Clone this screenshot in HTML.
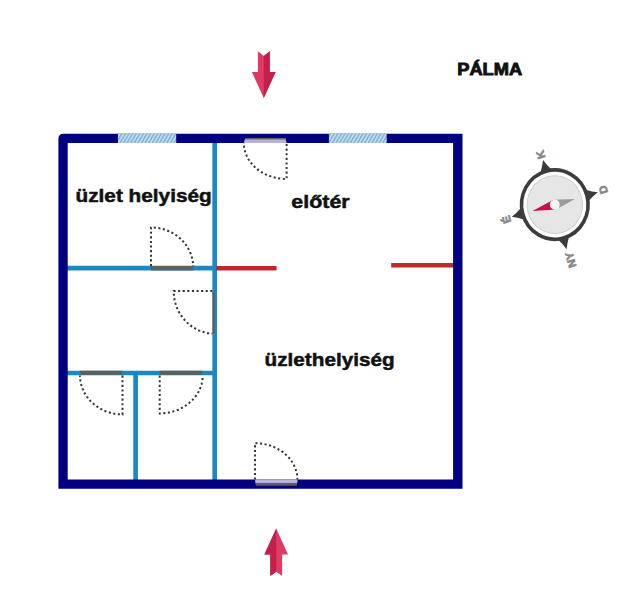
<!DOCTYPE html>
<html><head><meta charset="utf-8">
<style>
html,body{margin:0;padding:0;background:#fff;}
body{width:640px;height:610px;overflow:hidden;}
svg{display:block;}
text{font-family:"Liberation Sans",sans-serif;font-weight:bold;}
</style></head>
<body>
<svg width="640" height="610" viewBox="0 0 640 610" xmlns="http://www.w3.org/2000/svg">
<defs>
<pattern id="hatch" patternUnits="userSpaceOnUse" width="3.6" height="9.2" patternTransform="skewX(-30)">
<rect x="0" y="0" width="3.6" height="9.2" fill="#bedcf4"/>
<rect x="0" y="0" width="1.8" height="9.2" fill="#88b2d4"/>
</pattern>
</defs>

<!-- arrows -->
<polygon points="257.9,51.2 263.8,56 269.8,51.2 269.8,72.1 275.6,72.1 263.8,98.1 251.9,72.1 257.9,72.1" fill="#dd3963"/>
<polygon points="263.8,56 269.8,51.2 269.8,72.1 275.6,72.1 263.8,98.1" fill="#c31f4a"/>
<polygon points="276.2,528.4 288,554.5 282.1,554.5 282.1,576.1 276.2,571.7 270.3,576.1 270.3,554.5 264.4,554.5" fill="#de3b65"/>
<polygon points="276.2,528.4 264.4,554.5 270.3,554.5 270.3,576.1 276.2,571.7" fill="#c31f4a"/>

<!-- PALMA -->
<text x="457.2" y="75.4" font-size="16.8" stroke="#111" stroke-width="0.9" textLength="65" lengthAdjust="spacingAndGlyphs" fill="#111">PÁLMA</text>

<!-- interior walls -->
<g stroke="#1b88c4" stroke-width="4.7" fill="none">
<line x1="214.7" y1="140" x2="214.7" y2="482"/>
<line x1="65" y1="268.2" x2="214.7" y2="268.2"/>
<line x1="65" y1="373" x2="214.7" y2="373"/>
<line x1="135.6" y1="373" x2="135.6" y2="482"/>
</g>
<g stroke="#c0282e" stroke-width="4.6" fill="none">
<line x1="216" y1="268.2" x2="276.6" y2="268.2"/>
<line x1="391.2" y1="265.2" x2="455" y2="265.2"/>
</g>

<!-- outer wall -->
<path d="M58.4,138.4 A4.7,4.7 0 0 1 63.1,133.7 L462.5,133.7 L462.5,488.8 L58.4,488.8 Z M67.7,142.9 L67.7,479.6 L453.1,479.6 L453.1,142.9 Z" fill="#000080" fill-rule="evenodd"/>

<!-- windows -->
<rect x="117.9" y="133.5" width="58.3" height="9.5" fill="url(#hatch)"/>
<rect x="328.9" y="133.5" width="57.8" height="9.5" fill="url(#hatch)"/>

<!-- door bars -->
<polygon points="245.2,137.9 285.4,137.9 286.6,143 243.8,143" fill="#b6b2da"/>
<polygon points="245.2,137.9 285.4,137.9 285.7,139.4 244.9,139.4" fill="#6a645c"/>
<rect x="151" y="266" width="42.2" height="4.4" fill="#5c605e"/>
<polygon points="212.6,291.6 215,292.6 215,333.4 212.6,333.4" fill="#5c605e"/>
<polygon points="79.8,370.8 122.2,370.8 122.2,374.8 80.8,374.8" fill="#5c5e5c"/>
<polygon points="159.7,370.8 202.7,370.8 201.7,374.8 159.7,374.8" fill="#5c5e5c"/>
<polygon points="255,479.4 297.6,479.4 297.2,483 255.4,483" fill="#b8b2d8"/>
<polygon points="255.4,483 297.2,483 296.6,485.8 256,485.8" fill="#5e5e5a"/>

<!-- door swings -->
<g stroke="#363636" stroke-width="2" fill="none" stroke-dasharray="2.1 2.5">
<path d="M286.6,144 L286.6,179 A42.7,36 0 0 1 243.9,143"/>
<path d="M151,266 L151,227.4 A42.2,40 0 0 1 193.2,266"/>
<path d="M212.4,291 L173.7,291 A41,42.6 0 0 0 212.4,333.6"/>
<path d="M122.5,375.6 L122.5,414.4 A42.5,39 0 0 1 80,375.6"/>
<path d="M159.7,375.6 L159.7,413.4 A43,38 0 0 0 202.7,375.6"/>
<path d="M255,479.6 L255,443.2 A42.4,36.4 0 0 1 297.4,479.6"/>
</g>

<!-- labels -->
<text x="75.5" y="201.9" font-size="18.6" stroke="#111" stroke-width="0.5" textLength="136.2" lengthAdjust="spacingAndGlyphs" fill="#111">üzlet helyiség</text>
<text x="291.3" y="208.2" font-size="18.6" stroke="#111" stroke-width="0.5" textLength="58.4" lengthAdjust="spacingAndGlyphs" fill="#111">előtér</text>
<text x="264.6" y="365.8" font-size="18.6" stroke="#111" stroke-width="0.5" textLength="130" lengthAdjust="spacingAndGlyphs" fill="#111">üzlethelyiség</text>

<!-- compass -->
<g transform="translate(554.8,204.6) scale(0.99,1.03) rotate(-105.3)">
<g fill="#3a3a3a">
<path id="spk" d="M-9,-31 Q-5,-33 0,-45 Q5,-33 9,-31 Z"/>
<path d="M-9,-31 Q-5,-33 0,-45 Q5,-33 9,-31 Z" transform="rotate(90)"/>
<path d="M-9,-31 Q-5,-33 0,-45 Q5,-33 9,-31 Z" transform="rotate(180)"/>
<path d="M-9,-31 Q-5,-33 0,-45 Q5,-33 9,-31 Z" transform="rotate(270)"/>
</g>
<circle r="33.6" fill="#fff" stroke="#3c3c3c" stroke-width="3.6"/>
<circle r="28" fill="#e6e6e6" stroke="#d0d0d0" stroke-width="1"/>
<polygon points="-5,0 0,-23.3 5,0" fill="#c5104a"/>
<polygon points="-5,0 0,21 5,0" fill="#9a9a9a"/>
<circle r="5" fill="#f6f4f4"/>
<g fill="#888" stroke="#888" stroke-width="0.7" font-size="11" text-anchor="middle" transform="rotate(-1.2)">
<text x="0" y="-47">É</text>
<text x="50.5" y="4">K</text>
<text x="0" y="54.8">D</text>
<text x="-56" y="4">NY</text>
</g>
</g>
</svg>
</body></html>
